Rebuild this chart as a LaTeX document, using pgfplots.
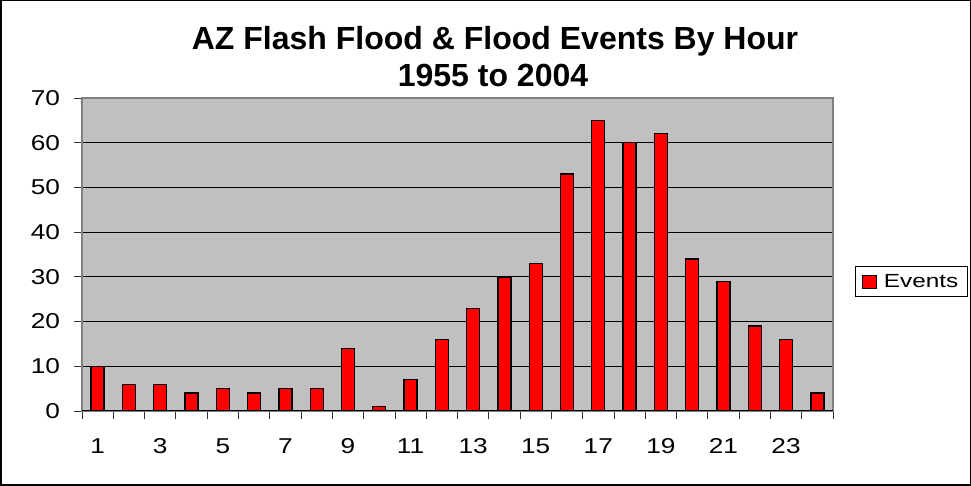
\documentclass[border=0pt]{standalone}
\usepackage{graphicx}
\usepackage{pgfplots}
\pgfplotsset{compat=1.18}
\usepackage{fontspec}
\setmainfont{Liberation Sans}
\definecolor{plotbg}{HTML}{C0C0C0}
\definecolor{axgray}{HTML}{808080}
\begin{document}
\begin{tikzpicture}[x=1pt,y=1pt]
\draw[line width=1.5pt] (0.75,0.75) rectangle (970.25,485.25);
\begin{axis}[at={(82pt,75pt)}, anchor=south west, scale only axis,
  width=751pt, height=313pt,
  xmin=0.5, xmax=24.5, ymin=0, ymax=70,
  ytick={0,10,...,70},
  xtick={0.5,1.5,...,24.5}, xticklabels={},
  extra x ticks={1,3,...,23},
  extra x tick labels={1,3,5,7,9,11,13,15,17,19,21,23},
  extra x tick style={major tick length=0pt, grid=none},
  tick align=outside, major tick length=8pt,
  tick style={draw=black!80, line width=0.8pt},
  xtick pos=bottom, ytick pos=left,
  ymajorgrids, grid style={draw=black, line width=0.8pt},
  axis line style={draw=axgray, line width=1.2pt},
  axis background/.style={fill=plotbg},
  /pgf/number format/assume math mode=true,
  tick label style={font=\fontsize{21.5}{21.5}\selectfont, xscale=1.22},
  xticklabel style={yshift=-24pt},
  yticklabel style={xshift=-8pt},
  ybar, bar width=13pt,
  legend style={at={(axis description cs:1.029,0.414)}, anchor=west,
    draw=black, line width=0.8pt, font=\fontsize{19}{19}\selectfont,
    inner xsep=7pt, inner ysep=6pt},
  legend image code/.code={\draw[fill=red,draw=black,line width=0.8pt] (0pt,-6.5pt) rectangle (14pt,6.5pt);},
]
\addplot[fill=red, draw=black, line width=1.3pt] coordinates {
(1,10) (2,6) (3,6) (4,4) (5,5) (6,4) (7,5) (8,5) (9,14) (10,1) (11,7) (12,16)
(13,23) (14,30) (15,33) (16,53) (17,65) (18,60) (19,62) (20,34) (21,29) (22,19) (23,16) (24,4)};
\addlegendentry{\hspace{5pt}\scalebox{1.28}[1]{Events}}
\draw[black, line width=1.2pt] (axis cs:0.5,0) -- (axis cs:24.5,0);
\end{axis}
\node[font=\bfseries\fontsize{32}{32}\selectfont, anchor=base] at (495,436) {AZ Flash Flood \& Flood Events By Hour};
\node[font=\bfseries\fontsize{32}{32}\selectfont, anchor=base] at (493,399) {1955 to 2004};
\end{tikzpicture}
\end{document}
